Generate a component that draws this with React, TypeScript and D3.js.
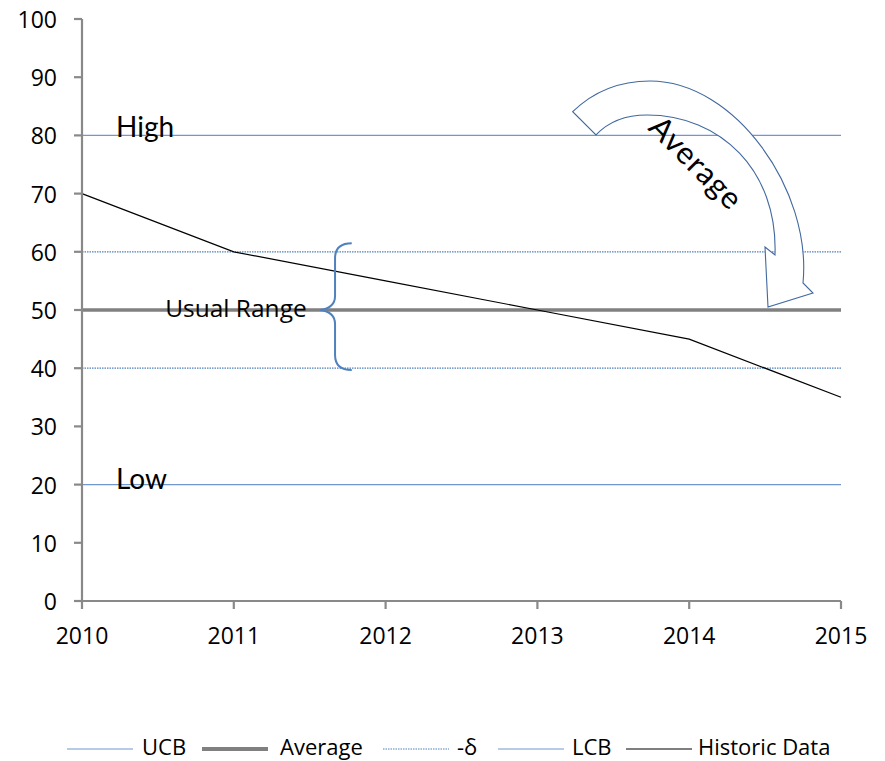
import React from "react";
import * as d3 from "d3";

const years = [2010, 2011, 2012, 2013, 2014, 2015];
const historicData = [70, 60, 55, 50, 45, 35];
const ucbValue = 80;
const lcbValue = 20;
const averageValue = 50;
const deltaValues = [60, 40];
const yTicks = [0, 10, 20, 30, 40, 50, 60, 70, 80, 90, 100];
const legendLabels = ["UCB", "Average", "-δ", "LCB", "Historic Data"];

const W = 885;
const H = 761;

const BLUE = "#7098cf";
const DOT_BLUE = "#4f81bd";
const GRAY = "#808080";
const AXIS = "#898989";
const TICK_FONT = "'Open Sans', 'Noto Sans', sans-serif";
const GOTHIC = "Lato, 'Noto Sans', sans-serif";

export default function App() {
  const x = d3.scaleLinear().domain([2010, 2015]).range([82, 841]);
  const y = d3.scaleLinear().domain([0, 100]).range([601, 19]);

  const line = d3
    .line<number>()
    .x((_, i) => x(years[i]))
    .y((d) => y(d));

  const hline = (v: number) => `M${x(2010)},${y(v)}H${x(2015)}`;
  const P = (yr: number, v: number) => `${x(yr)},${y(v)}`;

  // curved "Average" arrow (annotation), anchored in data units
  const arrowPath =
    `M${P(2013.2325, 84.07)}` +
    `C${P(2013.3794, 87.8)} ${P(2013.5441, 89.35)} ${P(2013.7418, 89.35)}` +
    `C${P(2014.3017, 89.35)} ${P(2014.809, 70.62)} ${P(2014.7497, 54.64)}` +
    `L${P(2014.8155, 52.92)}` +
    `L${P(2014.5191, 50.52)}` +
    `L${P(2014.4993, 60.82)}` +
    `L${P(2014.5652, 59.45)}` +
    `C${P(2014.585, 74.05)} ${P(2014.2029, 83.51)} ${P(2013.722, 83.51)}` +
    `C${P(2013.5771, 83.51)} ${P(2013.4651, 82.3)} ${P(2013.386, 80.07)}Z`;

  // brace "Usual Range"
  const bx = x(2011.667);
  const bEnd = x(2011.777);
  const bTip = x(2011.568);
  const bTop = y(61.46);
  const bBot = y(39.69);
  const bMid = y(averageValue);
  const bracePath =
    `M${bEnd},${bTop}Q${bx},${bTop} ${bx},${bTop + 15}` +
    `L${bx},${bMid - 14}Q${bx},${bMid - 2} ${bTip},${bMid}` +
    `Q${bx},${bMid + 2} ${bx},${bMid + 14}` +
    `L${bx},${bBot - 15}Q${bx},${bBot} ${bEnd},${bBot}`;

  const legendY = 749;
  const legendItems = [
    { lx: 67, tx: 142, stroke: BLUE, w: 1.2, dash: undefined },
    { lx: 202, tx: 280, stroke: GRAY, w: 4, dash: undefined },
    { lx: 383, tx: 457, stroke: DOT_BLUE, w: 1.2, dash: "1.5,1" },
    { lx: 498, tx: 572, stroke: BLUE, w: 1.2, dash: undefined },
    { lx: 626, tx: 698, stroke: "#000", w: 1.2, dash: undefined },
  ];

  return (
    <svg
      width={W}
      height={H}
      style={{ position: "absolute", left: 0, top: 0, background: "#fff" }}
    >
      <rect width={W} height={H} fill="#fff" />
      {/* reference lines */}
      <path d={hline(ucbValue)} stroke={BLUE} strokeWidth={1.2} fill="none" />
      <path d={hline(lcbValue)} stroke={BLUE} strokeWidth={1.2} fill="none" />
      {deltaValues.map((v) => (
        <path key={v} d={hline(v)} stroke={DOT_BLUE} strokeWidth={1.2} strokeDasharray="1.5,1" fill="none" />
      ))}
      <path d={hline(averageValue)} stroke={GRAY} strokeWidth={3.5} fill="none" />
      <path d={line(historicData) || ""} stroke="#000" strokeWidth={1.2} fill="none" />

      {/* axes */}
      <line x1={x(2010)} x2={x(2010)} y1={y(100)} y2={y(0)} stroke={AXIS} strokeWidth={2.2} />
      <line x1={x(2010)} x2={x(2015)} y1={y(0)} y2={y(0)} stroke={AXIS} strokeWidth={2.2} />
      {yTicks.map((t) => (
        <g key={t}>
          <line x1={x(2010) - 8} x2={x(2010)} y1={y(t)} y2={y(t)} stroke={AXIS} strokeWidth={2.2} />
          <text
            x={57}
            y={y(t)}
            textAnchor="end"
            dominantBaseline="central"
            fontFamily={TICK_FONT}
            fontSize={23}
            fill="#000"
          >
            {t}
          </text>
        </g>
      ))}
      {years.map((yr) => (
        <g key={yr}>
          <line x1={x(yr)} x2={x(yr)} y1={y(0)} y2={y(0) + 8} stroke={AXIS} strokeWidth={2.2} />
          <text
            x={x(yr)}
            y={635}
            textAnchor="middle"
            dominantBaseline="central"
            fontFamily={TICK_FONT}
            fontSize={23}
            fill="#000"
          >
            {yr}
          </text>
        </g>
      ))}

      {/* annotations */}
      <text x={x(2010.224)} y={y(ucbValue) + 2} fontFamily={GOTHIC} fontSize={28} fill="#000">
        High
      </text>
      <text x={x(2010.224)} y={y(lcbValue) + 4} fontFamily={GOTHIC} fontSize={28} fill="#000">
        Low
      </text>
      <text
        x={x(2011.014)}
        y={y(averageValue) + 7}
        textAnchor="middle"
        fontFamily={TICK_FONT}
        fontSize={24.5}
        fill="#000"
      >
        Usual Range
      </text>
      <path d={bracePath} stroke={DOT_BLUE} strokeWidth={2} fill="none" />
      <path d={arrowPath} stroke="#41699f" strokeWidth={1.1} fill="#fff" />
      <text
        transform={`translate(${x(2014.051)},${y(75.43)}) rotate(45)`}
        textAnchor="middle"
        dominantBaseline="central"
        fontFamily={GOTHIC}
        fontSize={31}
        letterSpacing={1}
        fill="#000"
      >
        Average
      </text>

      {/* legend */}
      {legendItems.map((it, i) => (
        <g key={i}>
          <line
            x1={it.lx}
            x2={it.lx + 66}
            y1={legendY}
            y2={legendY}
            stroke={it.stroke}
            strokeWidth={it.w}
            strokeDasharray={it.dash}
          />
          <text
            x={it.tx}
            y={755}
            fontFamily={TICK_FONT}
            fontSize={22}
            fill="#000"
          >
            {legendLabels[i]}
          </text>
        </g>
      ))}
    </svg>
  );
}
